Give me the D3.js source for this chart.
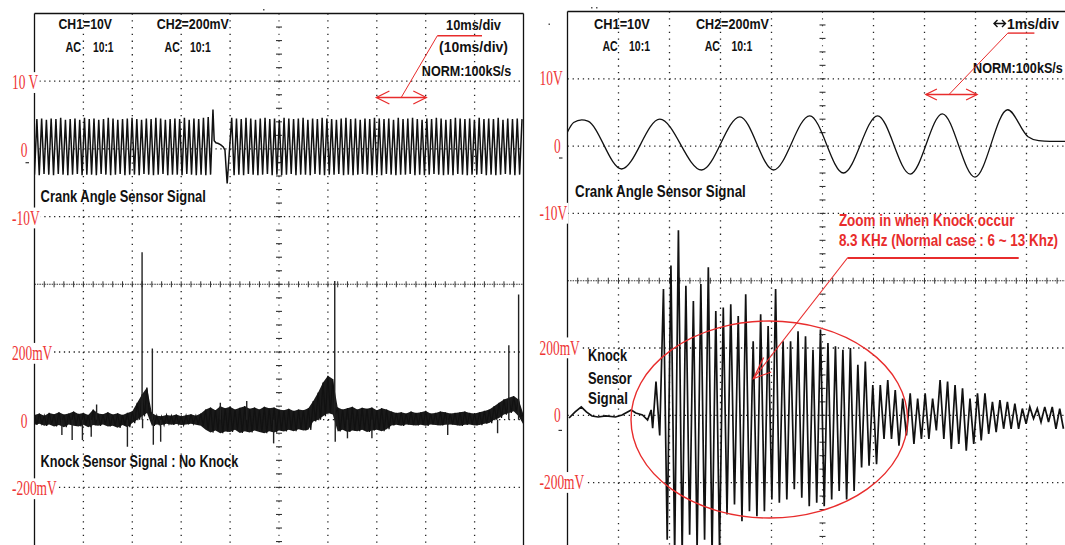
<!DOCTYPE html>
<html>
<head>
<meta charset="utf-8">
<style>
  body { margin: 0; background: #fff; }
  svg { display: block; }
  .hdr { font-family: "Liberation Sans", Arial, sans-serif; font-weight: bold; fill: #111; }
  .lbl { font-family: "Liberation Serif", "Times New Roman", serif; fill: #ee3535; }
  .note { font-family: "Liberation Sans", Arial, sans-serif; font-weight: bold; fill: #e82c2c; }
</style>
</head>
<body>
<script src="https://cdn.jsdelivr.net/npm/d3@7"></script>
<script>

// left screen, CH1 crank signal (V), 10 ms/div : alternating troughs / peaks
var crankHalfPeriod = 0.4866; // ms between a trough and the next peak
var crankPreStart = 0;
var crankPreTroughs = [-3.8, -3.9, -3.7, -3.8, -3.9, -3.7, -3.8, -3.9, -3.8, -3.7, -3.9, -3.8, -3.8, -3.9, -3.7, -3.8, -3.9, -3.8, -3.7,
                       -3.9, -3.8, -3.8, -3.9, -3.7, -3.8, -3.9, -3.8, -3.7, -3.9, -3.8, -3.8, -3.9, -3.7, -3.8, -3.9, -3.8, -3.9, -3.8];
var crankPrePeaks = [4.4, 4.5, 4.3, 4.5, 4.4, 4.6, 4.3, 4.4, 4.5, 4.3, 4.6, 4.4, 4.5, 4.3, 4.4, 4.6, 4.5, 4.3, 4.4,
                     4.5, 4.6, 4.4, 4.3, 4.5, 4.4, 4.6, 4.5, 4.3, 4.4, 4.5, 4.4, 4.6, 4.3, 4.5, 4.4, 4.6, 4.7, 5.8];
// missing tooth [ms, V]
var crankGap = [[36.75, 1.2], [37.1, 0.9], [37.6, 0.8], [38.1, 0.6], [38.6, 0.3], [38.95, -0.2], [39.2, -3.0], [39.4, -5.1]];
var crankPostStart = 40.33;
var crankPostPeaks = [4.6, 4.5, 4.4, 4.6, 4.5, 4.3, 4.5, 4.6, 4.4, 4.5, 4.3, 4.6, 4.5, 4.4, 4.5, 4.6, 4.3, 4.5, 4.4, 4.6, 4.5,
                      4.4, 4.3, 4.5, 4.6, 4.4, 4.5, 4.3, 4.5, 4.4, 4.6, 4.5, 4.4, 4.5, 4.3, 4.6, 4.4, 4.5, 4.6, 4.4, 4.3,
                      4.5, 4.4, 4.6, 4.5, 4.3, 4.4, 4.6, 4.5, 4.4, 4.5, 4.3, 4.6, 4.4, 4.5, 4.4, 4.6, 4.3, 4.5, 4.4, 4.5, 4.4];
var crankPostTroughs = [-3.9, -3.8, -3.9, -3.7, -3.8, -3.9, -3.8, -3.7, -3.9, -3.8, -3.9, -3.8, -3.7, -3.9, -3.8, -3.8, -3.9, -3.7, -3.8, -3.9, -3.8,
                        -3.8, -3.7, -3.9, -3.8, -3.9, -3.8, -3.7, -3.8, -3.9, -3.8, -3.9, -3.7, -3.8, -3.9, -3.8, -3.8, -3.7, -3.9, -3.8, -3.9,
                        -3.8, -3.7, -3.8, -3.9, -3.8, -3.9, -3.7, -3.8, -3.9, -3.8, -3.8, -3.7, -3.9, -3.8, -3.9, -3.8, -3.7, -3.8, -3.9, -3.8];

// left screen, CH2 knock signal (mV): noise band edges, one value per ms (0..100)
var knockUpper = [14, 18, 12, 20, 16, 22, 15, 18, 24, 17, 20, 14, 30, 18, 16, 22, 15, 19, 14, 20,
                  25, 50, 75, 95,
                  20, 12, 10, 14, 12, 15, 10, 13, 16, 12, 18,
                  30, 36, 28, 40, 34, 38, 30, 35, 40, 32, 36, 30, 38, 34, 36,
                  30, 28, 32, 26, 30, 28, 34,
                  55, 80, 110, 130, 120,
                  36, 30, 34, 38, 30, 35, 32, 36, 28, 34, 30,
                  24, 20, 22, 18, 24, 20, 22, 26, 18, 20, 24, 22, 18, 20, 22, 24, 20, 18, 22, 26, 30,
                  40, 50, 60, 65, 70, 60, 15];
var knockLower = [-15, -12, -18, -14, -20, -16, -22, -14, -18, -20, -15, -22, -16, -18, -14, -20, -18, -24, -16, -22,
                  -10, 0, 10, 20,
                  -18, -14, -16, -12, -15, -13, -16, -14, -12, -15, -18,
                  -30, -38, -32, -40, -35, -36, -30, -39, -34, -38, -32, -36, -40, -34, -38,
                  -32, -35, -30, -34, -28, -32, -30,
                  -5, 0, 10, 20, 15,
                  -35, -30, -36, -32, -34, -30, -36, -32, -30, -34, -28,
                  -17, -15, -18, -14, -16, -17, -15, -18, -14, -16, -17, -15, -14, -16, -18, -15, -14, -17, -16, -12, -10,
                  0, 5, 15, 20, 25, 10, -15];
// isolated spikes [ms, mV]
var knockSpikes = [[5.6, -45], [7.7, -60], [9.8, -60], [11.6, -50], [12.7, 45], [19.0, -80], [22.0, 495], [22.1, -25],
                   [24.1, 210], [24.3, -74], [25.8, -65], [38.0, 50], [43.4, 55], [48.9, -70], [61.4, 410], [61.5, -65],
                   [64.0, -55], [69.0, -55], [84.5, -45], [94.7, -40], [97.0, 220], [99.0, 370]];

// right screen, CH1 crank signal, 1 ms/div [ms, V]
var crankZoom = [[0, 2.1], [0.12, 3.5], [0.28, 3.9], [0.4, 3.7], [1.06, -3.4], [1.81, 4.0], [2.63, -3.55], [3.38, 4.35],
                 [4.04, -3.55], [4.75, 4.5], [5.41, -4.0], [6.08, 4.5], [6.72, -4.15], [7.35, 4.8], [7.99, -4.6],
                 [8.63, 5.4], [9.03, 1.4], [9.24, 0.8], [9.46, 0.7], [9.75, 0.7], [10, 0.7]];

// right screen, CH2 knock burst (mV)
var knockZoomPre = [[0.03, -8], [0.15, 10], [0.27, 25], [0.37, 10], [0.48, -2], [0.6, -5], [0.75, -2], [0.94, -5],
                    [1.07, 1], [1.25, 16], [1.34, 7], [1.47, 1], [1.57, -14], [1.64, 16], [1.67, -38]];
var knockZoomStart = 1.735;
var knockZoomHalf = 0.0733;
var knockZoomPeaks = [100, 375, 445, 550, 385, 340, 390, 440, 310, 320, 330, 295, 360, 220, 300, 265, 375, 220, 220, 250,
                      235, 195, 255, 215, 205, 195, 200, 150, 160, 90, 90, 105, 75, 50, 65, 50, 65, 50, 105, 100,
                      90, 80, 50, 65, 65, 40, 45, 40, 35, 20, 25, 20, 25, 25, 20];
var knockZoomTroughs = [-60, -370, -415, -415, -355, -400, -370, -415, -400, -295, -265, -315, -285, -300, -285, -250, -260, -250, -220, -245,
                        -270, -260, -270, -250, -225, -250, -225, -155, -150, -145, -70, -70, -90, -60, -85, -70, -70, -45, -70, -100,
                        -85, -105, -85, -75, -55, -50, -40, -40, -40, -25, -10, -20, -20, -40, -40];

// channel tick labels
var ch1Ticks = [{v: 10, left: "10 V", right: "10V"}, {v: 0, left: "0", right: "0"}, {v: -10, left: "-10V", right: "-10V"}];
var ch2Ticks = [{v: 200, left: "200mV", right: "200mV"}, {v: 0, left: "0", right: "0"}, {v: -200, left: "-200mV", right: "-200mV"}];

/* ---- drawing ---- */

var W = 1065, H = 545;
var svg = d3.select("body").append("svg").attr("width", W).attr("height", H);
svg.append("rect").attr("width", W).attr("height", H).attr("fill", "#fff");
var defs = svg.append("defs");

function drawPanel(p) {
  var x1 = p.x0 + 10 * p.dx;
  var gx = d3.scaleLinear().domain([0, 10]).range([p.x0, x1]);
  var gy = d3.scaleLinear().domain([0, 8]).range([p.y0, p.y0 + 8 * p.dy]);
  var g = svg.append("g");

  // dotted graticule
  d3.range(1, 10).filter(function(k) { return k != 5; }).forEach(function(k) {
    g.append("line").attr("x1", gx(k)).attr("x2", gx(k)).attr("y1", p.y0).attr("y2", H)
      .attr("stroke", "#222").attr("stroke-width", 1.3)
      .attr("stroke-dasharray", "1.3," + (p.dy / 10 - 1.3));
  });
  d3.range(1, 8).filter(function(k) { return k != 4; }).forEach(function(k) {
    g.append("line").attr("x1", p.x0).attr("x2", x1).attr("y1", gy(k)).attr("y2", gy(k))
      .attr("stroke", "#222").attr("stroke-width", 1.3)
      .attr("stroke-dasharray", "1.3," + (p.dx / 10 - 1.3));
  });
  // centre lines with minor ticks
  g.append("line").attr("x1", p.x0).attr("x2", x1).attr("y1", gy(4)).attr("y2", gy(4))
    .attr("stroke", "#333").attr("stroke-width", 1.1)
    .attr("stroke-dasharray", "1.5," + (p.dx / 20 - 1.5));
  g.selectAll(".tx").data(d3.range(1, 50)).enter().append("line")
    .attr("x1", function(d) { return gx(d / 5); }).attr("x2", function(d) { return gx(d / 5); })
    .attr("y1", gy(4) - 3).attr("y2", gy(4) + 3).attr("stroke", "#333").attr("stroke-width", 1);
  g.append("line").attr("x1", gx(5)).attr("x2", gx(5)).attr("y1", p.y0).attr("y2", H)
    .attr("stroke", "#333").attr("stroke-width", 1.1)
    .attr("stroke-dasharray", "1.2," + (p.dy / 10 - 1.2));
  g.selectAll(".ty").data(d3.range(1, 42)).enter().append("line")
    .attr("x1", gx(5) - 3).attr("x2", gx(5) + 3)
    .attr("y1", function(d) { return gy(d / 5); }).attr("y2", function(d) { return gy(d / 5); })
    .attr("stroke", "#333").attr("stroke-width", 1.1);

  defs.append("clipPath").attr("id", p.id).append("rect")
    .attr("x", p.x0).attr("y", p.y0).attr("width", x1 - p.x0).attr("height", H - p.y0);

  var xT = d3.scaleLinear().domain([0, p.tMax]).range([p.x0, x1]);
  var y1 = d3.scaleLinear().domain([-10, 10]).range([gy(3), gy(1)]);
  var y2 = d3.scaleLinear().domain([-200, 200]).range([gy(7), gy(5)]);
  var sig = svg.append("g").attr("clip-path", "url(#" + p.id + ")");
  return {g: g, sig: sig, x1: x1, gx: gx, gy: gy, xT: xT, y1: y1, y2: y2, p: p};
}

function frame(P, rightEdge) {
  var p = P.p;
  svg.append("line").attr("x1", p.x0).attr("x2", Math.min(P.x1, W)).attr("y1", p.y0).attr("y2", p.y0)
    .attr("stroke", "#111").attr("stroke-width", 1.3);
  svg.append("line").attr("x1", p.x0).attr("x2", p.x0).attr("y1", p.y0).attr("y2", H)
    .attr("stroke", "#111").attr("stroke-width", 1.3);
  if (rightEdge) svg.append("line").attr("x1", P.x1).attr("x2", P.x1).attr("y1", p.y0).attr("y2", H)
    .attr("stroke", "#111").attr("stroke-width", 1.3);
}

function tickLabels(P, side, dxMain, dxZero, dy) {
  var items = ch1Ticks.map(function(d) { return {y: P.y1(d.v), s: d[side]}; })
    .concat(ch2Ticks.map(function(d) { return {y: P.y2(d.v), s: d[side]}; }));
  items.forEach(function(d) {
    var x = P.p.x0 + (d.s === "0" ? dxZero : dxMain);
    var t = svg.append("text").attr("class", "lbl").attr("font-size", 21)
      .attr("transform", "translate(" + x + "," + (d.y + dy) + ") scale(0.64,1)").text(d.s);
    var b = t.node().getBoundingClientRect();
    svg.insert("rect", function() { return t.node(); })
      .attr("x", b.x - 1).attr("y", b.y + 2).attr("width", b.width + 2).attr("height", b.height - 3)
      .attr("fill", "#fff");
  });
}

// condensed bold text: font size chosen so the natural width is w, then stretched to the cap height
function hdr(s, x, y, w, size, cls) {
  var t = svg.append("text").attr("class", cls || "hdr").attr("font-size", size || 15).text(s);
  var w0 = t.node().getComputedTextLength();
  var fs = (size || 15) * w / w0;
  t.attr("font-size", fs)
    .attr("transform", "translate(" + x + "," + y + ") scale(1," + ((size || 15) / fs) + ")");
  return t;
}

function redLine(pts, w) {
  svg.append("path").attr("d", d3.line()(pts)).attr("fill", "none")
    .attr("stroke", "#e82c2c").attr("stroke-width", w || 1.1);
}

function dblArrow(xa, xb, y, hl, hw) {
  redLine([[xa, y], [xb, y]], 1.4);
  redLine([[xa + hl, y - hw], [xa, y], [xa + hl, y + hw]], 1.3);
  redLine([[xb - hl, y - hw], [xb, y], [xb - hl, y + hw]], 1.3);
}

var traceColor = "#111";

/* left screen: 10 ms/div */
var L = drawPanel({id: "clipL", x0: 34.5, y0: 13.5, dx: 48.9, dy: 67.7, tMax: 100});

var crankPts = [];
crankPreTroughs.forEach(function(v, i) {
  crankPts.push([crankPreStart + 2 * i * crankHalfPeriod, v]);
  if (i < crankPrePeaks.length) crankPts.push([crankPreStart + (2 * i + 1) * crankHalfPeriod, crankPrePeaks[i]]);
});
crankGap.forEach(function(d) { crankPts.push(d); });
crankPostPeaks.forEach(function(v, i) {
  crankPts.push([crankPostStart + 2 * i * crankHalfPeriod, v]);
  if (i < crankPostTroughs.length) crankPts.push([crankPostStart + (2 * i + 1) * crankHalfPeriod, crankPostTroughs[i]]);
});
L.sig.append("path").datum(crankPts)
  .attr("d", d3.line().x(function(d) { return L.xT(d[0]); }).y(function(d) { return L.y1(d[1]); }))
  .attr("fill", "none").attr("stroke", traceColor).attr("stroke-width", 1.5);

// knock noise band
var bandIdx = d3.range(knockUpper.length);
L.sig.append("path").datum(bandIdx)
  .attr("d", d3.area().x(function(i) { return L.xT(i); })
    .y0(function(i) { return L.y2(knockLower[i]); }).y1(function(i) { return L.y2(knockUpper[i]); }))
  .attr("fill", "#1a1a1a");
var zig = [];
bandIdx.forEach(function(i) { zig.push([i, knockUpper[i]]); zig.push([i + 0.5, knockLower[i]]); });
L.sig.append("path").datum(zig)
  .attr("d", d3.line().x(function(d) { return L.xT(d[0]); }).y(function(d) { return L.y2(d[1]); }))
  .attr("fill", "none").attr("stroke", traceColor).attr("stroke-width", 1.2);
L.sig.selectAll(".spk").data(knockSpikes).enter().append("line")
  .attr("x1", function(d) { return L.xT(d[0]); }).attr("x2", function(d) { return L.xT(d[0]); })
  .attr("y1", L.y2(0)).attr("y2", function(d) { return L.y2(d[1]); })
  .attr("stroke", "#222").attr("stroke-width", 1.4);

frame(L, true);
tickLabels(L, "left", -22.5, -13.8, 8);

/* right screen: 1 ms/div */
var R = drawPanel({id: "clipR", x0: 567.5, y0: 11.5, dx: 51, dy: 67.3, tMax: 10});

R.sig.append("path").datum(crankZoom)
  .attr("d", d3.line().curve(d3.curveMonotoneX).x(function(d) { return R.xT(d[0]); }).y(function(d) { return R.y1(d[1]); }))
  .attr("fill", "none").attr("stroke", traceColor).attr("stroke-width", 1.3);

var burst = knockZoomPre.slice();
knockZoomPeaks.forEach(function(v, i) {
  burst.push([knockZoomStart + 2 * i * knockZoomHalf, v]);
  if (i < knockZoomTroughs.length) burst.push([knockZoomStart + (2 * i + 1) * knockZoomHalf, knockZoomTroughs[i]]);
});
R.sig.append("path").datum(burst)
  .attr("d", d3.line().x(function(d) { return R.xT(d[0]); }).y(function(d) { return R.y2(d[1]); }))
  .attr("fill", "none").attr("stroke", traceColor).attr("stroke-width", 1.7);

frame(R, false);
tickLabels(R, "right", -28, -13.5, 6.5);

// ground markers and stray dots
[[25.5, 162.7], [559, 158], [558.5, 430.4]].forEach(function(d) {
  svg.append("line").attr("x1", d[0]).attr("x2", d[0] + 3.5).attr("y1", d[1]).attr("y2", d[1])
    .attr("stroke", "#333").attr("stroke-width", 1.2);
});
[[263, 9], [591, 7], [596, 7], [548.5, 23.5]].forEach(function(d) {
  svg.append("rect").attr("x", d[0]).attr("y", d[1]).attr("width", 1.5).attr("height", 1.5).attr("fill", "#555");
});

/* header texts */
hdr("CH1=10V", 58.5, 29, 53.5);
hdr("CH2=200mV", 156.7, 29, 72.3);
hdr("AC", 65.4, 52.3, 15.6);
hdr("10:1", 93, 52.3, 20.6);
hdr("AC", 164.6, 52.3, 15.2);
hdr("10:1", 190, 52.3, 20.7);
hdr("10ms/div", 446, 30, 55);
hdr("(10ms/div)", 439, 52.3, 69);
hdr("NORM:100kS/s", 421.8, 75.8, 89.6);

hdr("CH1=10V", 594, 29, 56);
hdr("CH2=200mV", 696, 29, 73);
hdr("AC", 602.4, 51, 15.3);
hdr("10:1", 629, 51, 21);
hdr("AC", 704.7, 51, 15.3);
hdr("10:1", 731.4, 51, 21);
// small double arrow in front of 1ms/div
svg.append("path").attr("d", "M994,23.5H1005.5M997.5,20L994,23.5L997.5,27M1002,20L1005.5,23.5L1002,27")
  .attr("fill", "none").attr("stroke", "#111").attr("stroke-width", 1.4);
hdr("1ms/div", 1007, 29, 52);
hdr("NORM:100kS/s", 973, 73.4, 90);

hdr("Crank Angle Sensor Signal", 40.6, 202, 165.4, 16);
hdr("Knock Sensor Signal : No Knock", 40.6, 466.5, 197.7, 16.5);
hdr("Crank Angle Sensor Signal", 575, 197, 171, 16);
hdr("Knock", 588, 360.5, 39, 16);
hdr("Sensor", 588, 383.5, 43.7, 16);
hdr("Signal", 588, 403.5, 40, 16);

/* red annotations */
redLine([[437.3, 35.8], [482, 35.8]], 1.4);
redLine([[437.3, 35.8], [401.2, 97.5]], 1);
dblArrow(376.4, 426.3, 97.5, 13, 6.5);

redLine([[1007.8, 33.1], [1034.4, 33.1]], 1.4);
redLine([[1007.8, 33.1], [949, 94.5]], 1);
dblArrow(925.9, 977.1, 94.5, 11, 5.5);

hdr("Zoom in when Knock occur", 838.9, 225.6, 175.7, 16, "note");
hdr("8.3 KHz (Normal case : 6 ~ 13 Khz)", 838.9, 245.5, 219.4, 16, "note");
redLine([[847.4, 258], [1018.7, 258]], 2.2);
redLine([[847.4, 258], [753.4, 378.6]], 1.1);
redLine([[763.6, 357.5], [753.4, 378.6], [771.2, 372]], 1.3);
svg.append("ellipse").attr("cx", 769.3).attr("cy", 419.5).attr("rx", 138.3).attr("ry", 98.5)
  .attr("fill", "none").attr("stroke", "#e82c2c").attr("stroke-width", 1.4);

</script>
</body>
</html>
